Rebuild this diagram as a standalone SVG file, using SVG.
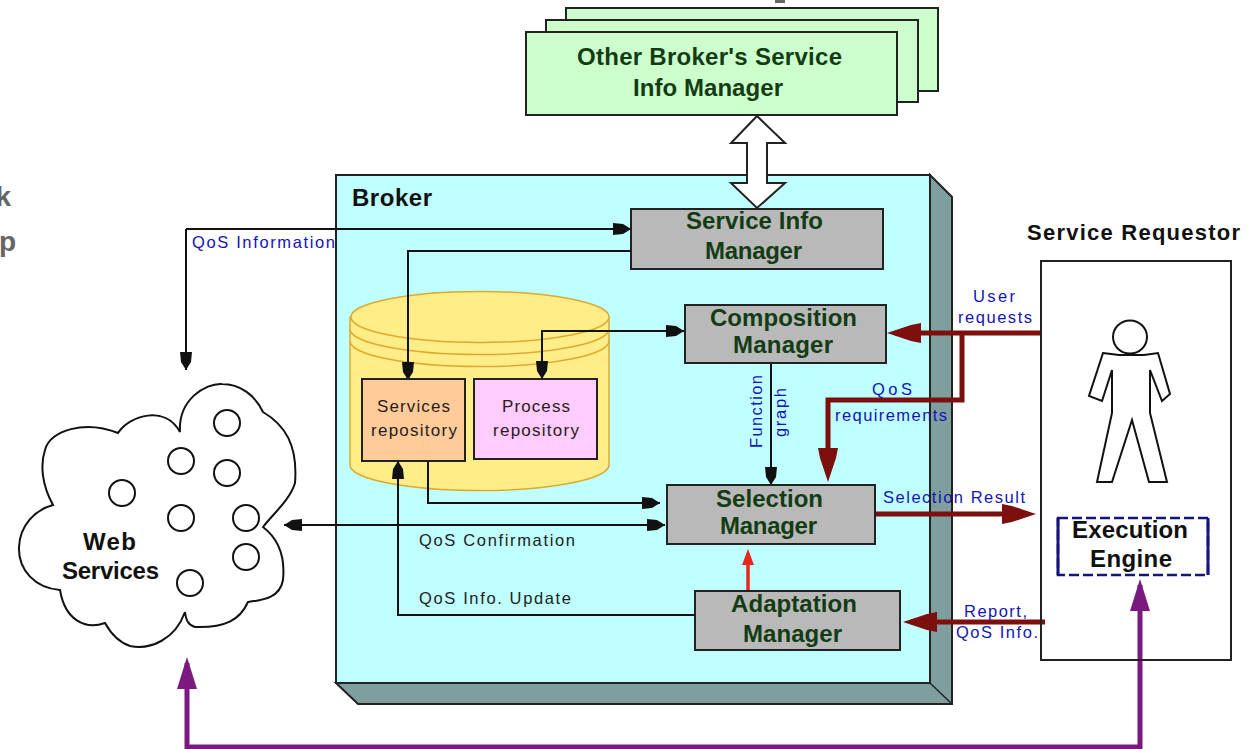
<svg xmlns="http://www.w3.org/2000/svg" width="1254" height="749" viewBox="0 0 1254 749">
<style>
text{font-family:"Liberation Sans",Arial,sans-serif}
.box{stroke:#222;stroke-width:2}
.mgr{fill:#b9b9b9}
.mt{font-size:24px;font-weight:bold;fill:#143c14;text-anchor:middle}
.bt{font-size:24px;font-weight:bold;fill:#111;text-anchor:middle}
.blue{font-size:16.500px;fill:#1414b4}
.blk{font-size:16.500px;fill:#222}
.repo{font-size:17px;fill:#2a1a1a;text-anchor:middle}
.line{fill:none;stroke:#111;stroke-width:2}
.dr{fill:none;stroke:#7d0f0f;stroke-width:5}
.pu{fill:none;stroke:#7a1a80;stroke-width:5}
.out{fill:#fff;stroke:#111;stroke-width:2}
.cyl{fill:#ffee88;stroke:#dcaa30;stroke-width:1.500}
.cl{fill:none;stroke:#dcaa30;stroke-width:1.500}
</style>
<defs>
<marker id="ab" markerUnits="userSpaceOnUse" markerWidth="22" markerHeight="14" viewBox="0 -7 22 14" refX="20" refY="0" orient="auto-start-reverse"><path d="M2,-6 L12,-5 L20,0 L12,5 L2,6Z" fill="#111"/></marker>
<marker id="adr" markerUnits="userSpaceOnUse" markerWidth="36" markerHeight="24" viewBox="0 -12 36 24" refX="26" refY="0" orient="auto"><path d="M0,-10 L10,-8 L34,0 L10,8 L0,10Z" fill="#7d0f0f"/></marker>
<marker id="ard" markerUnits="userSpaceOnUse" markerWidth="20" markerHeight="14" viewBox="0 -7 20 14" refX="12" refY="0" orient="auto"><path d="M0,-6 L16,0 L0,6Z" fill="#e8281e"/></marker>
<marker id="apu" markerUnits="userSpaceOnUse" markerWidth="36" markerHeight="24" viewBox="0 -12 36 24" refX="26" refY="0" orient="auto"><path d="M0,-10 L32,0 L0,10Z" fill="#7a1a80"/></marker>
</defs>
<rect width="1254" height="749" fill="#fff"/>
<g id="page-fragments" fill="#666">
<text x="11" y="206" font-size="28" font-weight="bold" text-anchor="end" fill="#666">k</text>
<text x="16" y="251" font-size="28" font-weight="bold" text-anchor="end" fill="#666">p</text>
<rect x="775" y="0" width="10" height="3"/>
</g>
<g id="broker">
<path d="M930,175 L952,197 V704 H358 L336,683 H930Z" fill="#7f9f9f" stroke="#222" stroke-width="2"/>
<rect class="box" x="336" y="175" width="594" height="508" fill="#bfffff"/>
<path d="M930,683 L952,704" stroke="#222" stroke-width="1.500"/>
<text x="352" y="206" font-size="24" font-weight="bold" fill="#111" textLength="80">Broker</text>
</g>
<g id="repository-cylinder">
<path class="cyl" d="M350,317 V465 A129,25.500 0 0 0 609,465 V317Z"/>
<ellipse class="cyl" cx="480" cy="317" rx="129" ry="25.500"/>
<path class="cl" d="M350,329 A129,25.500 0 0 0 609,329"/>
<path class="cl" d="M350,341 A129,25.500 0 0 0 609,341"/>
</g>
<g id="other-brokers">
<rect class="box" x="566" y="8" width="372" height="83" fill="#ccffcc"/>
<rect class="box" x="546" y="20" width="372" height="82" fill="#ccffcc"/>
<rect class="box" x="526" y="32" width="371" height="83" fill="#ccffcc"/>
<text class="mt" x="709.500" y="65" textLength="265">Other Broker's Service</text>
<text class="mt" x="708" y="96" textLength="150">Info Manager</text>
</g>
<g id="connectors">
<path class="line" d="M186,229 V370" marker-end="url(#ab)"/>
<path class="line" d="M186,229 H631" marker-end="url(#ab)"/>
<path class="line" d="M631,251 H408 V380" marker-end="url(#ab)"/>
<path class="line" d="M684,331 H542 V379" marker-start="url(#ab)" marker-end="url(#ab)"/>
<path class="line" d="M428,461 V503 H660" marker-end="url(#ab)"/>
<path class="line" d="M695,615 H398 V461" marker-end="url(#ab)"/>
<path class="line" d="M284,525 H665" marker-start="url(#ab)" marker-end="url(#ab)"/>
<path class="line" d="M771,363 V485" marker-end="url(#ab)"/>
<path d="M748,591 V553" fill="none" stroke="#e8281e" stroke-width="3.500" marker-end="url(#ard)"/>
<path class="dr" d="M1041,333 H895" marker-end="url(#adr)"/>
<path class="dr" d="M962,333 V400 H828 V474" marker-end="url(#adr)"/>
<path class="dr" d="M875,514 H1028" marker-end="url(#adr)"/>
<path class="dr" d="M1045,622 H911" marker-end="url(#adr)"/>
<path class="pu" d="M1140,660 V747 H187 V663" marker-end="url(#apu)"/>
<path class="pu" d="M1140,660 V585" marker-end="url(#apu)"/>
<path d="M757,116 L785,143 H767 V183 H785 L757,208 L731,183 H747 V143 H731Z" fill="#fff" stroke="#222" stroke-width="2"/>
</g>
<g id="service-info-manager">
<rect class="box mgr" x="631" y="209" width="252" height="60"/>
<text class="mt" x="754.500" y="229" textLength="137">Service Info</text>
<text class="mt" x="753.500" y="259" textLength="97">Manager</text>
</g>
<g id="composition-manager">
<rect class="box mgr" x="685" y="305" width="201" height="58"/>
<text class="mt" x="783.500" y="326" textLength="147">Composition</text>
<text class="mt" x="783" y="353" textLength="100">Manager</text>
</g>
<g id="selection-manager">
<rect class="box mgr" x="667" y="485" width="208" height="59"/>
<text class="mt" x="769.500" y="507" textLength="107">Selection</text>
<text class="mt" x="768.500" y="534" textLength="97">Manager</text>
</g>
<g id="adaptation-manager">
<rect class="box mgr" x="695" y="591" width="205" height="59"/>
<text class="mt" x="794" y="612" textLength="126">Adaptation</text>
<text class="mt" x="792.500" y="642" textLength="99">Manager</text>
</g>
<g id="services-repository">
<rect class="box" x="362" y="379" width="103" height="82" fill="#ffcc99"/>
<text class="repo" x="413.500" y="412" textLength="73">Services</text>
<text class="repo" x="414" y="436" textLength="86">repository</text>
</g>
<g id="process-repository">
<rect class="box" x="474" y="379" width="123" height="80" fill="#ffccff"/>
<text class="repo" x="536" y="412" textLength="68">Process</text>
<text class="repo" x="536" y="436" textLength="86">repository</text>
</g>
<g id="web-services">
<path class="out" d="M180,432 C178,400 205,383 222,384 C240,384 255,395 263,412 C285,425 298,445 295,483 C290,500 272,515 263,527 C280,540 285,560 283,580 C280,597 265,600 248,602 C240,620 225,628 195,627 C188,625 186,620 185,612 C175,640 150,650 130,646 C118,642 110,632 105,623 C85,630 65,620 60,590 C35,588 18,570 19,547 C20,525 35,510 53,505 C42,485 40,465 45,450 C50,430 85,420 118,433 C130,415 165,405 180,432Z"/>
<g fill="none" stroke="#111" stroke-width="2">
<circle cx="227" cy="423" r="13"/><circle cx="181" cy="461" r="13"/><circle cx="227" cy="473" r="13"/><circle cx="122" cy="493" r="13"/><circle cx="181" cy="518" r="13"/><circle cx="246" cy="518" r="13"/><circle cx="246" cy="557" r="13"/><circle cx="190" cy="583" r="13"/>
</g>
<text class="bt" x="109.500" y="550" textLength="53">Web</text>
<text class="bt" x="110.500" y="579" textLength="97">Services</text>
</g>
<g id="service-requestor">
<text x="1027" y="240" font-size="22" font-weight="bold" fill="#111" textLength="213">Service Requestor</text>
<rect x="1041" y="261" width="190" height="399" fill="#fff" fill-opacity="0" stroke="#222" stroke-width="2"/>
<ellipse cx="1130" cy="337" rx="17" ry="16.500" fill="#fff" stroke="#111" stroke-width="2"/>
<path fill="#fff" stroke="#111" stroke-width="2" d="M1103,353 L1119,355 H1144 L1158,353 L1170,394 L1162,401 L1150,370 V413 L1167,482 H1149 L1132,420 L1112,482 H1097 L1112,413 V370 L1102,401 L1089,396Z"/>
</g>
<g id="execution-engine">
<rect x="1058" y="518" width="150" height="57" fill="#fff" fill-opacity="0" stroke="#14147d" stroke-width="2.500" stroke-dasharray="10 4"/>
<path d="M1058,518 V575 M1208,518 V575" stroke="#14147d" stroke-width="3"/>
<text class="bt" x="1130" y="538" textLength="116">Execution</text>
<text class="bt" x="1131" y="567" textLength="82">Engine</text>
</g>
<g id="connector-labels">
<text class="blue" x="192" y="248" textLength="143">QoS Information</text>
<text class="blue" x="973" y="302" textLength="42">User</text>
<text class="blue" x="958" y="323" textLength="74">requests</text>
<text class="blue" x="872" y="395" textLength="40">QoS</text>
<text class="blue" x="835" y="421" textLength="112">requirements</text>
<text class="blue" transform="translate(762 448) rotate(-90)" textLength="73">Function</text>
<text class="blue" transform="translate(786 437) rotate(-90)" textLength="49">graph</text>
<text class="blue" x="883" y="503" textLength="142">Selection Result</text>
<text class="blue" x="964" y="617" textLength="63">Report,</text>
<text class="blue" x="956" y="638" textLength="82">QoS Info.</text>
<text class="blk" x="419" y="546" textLength="156">QoS Confirmation</text>
<text class="blk" x="419" y="604" textLength="152">QoS Info. Update</text>
</g>
</svg>
